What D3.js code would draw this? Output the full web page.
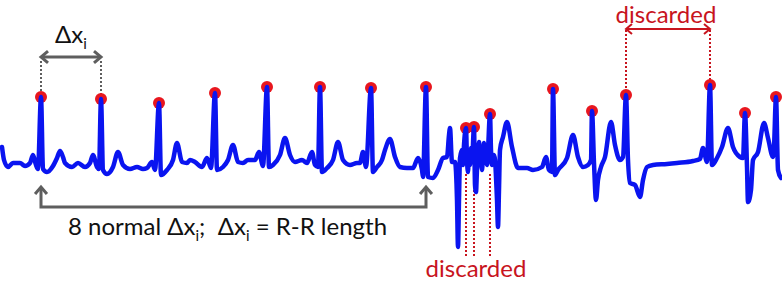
<!DOCTYPE html>
<html>
<head>
<meta charset="utf-8">
<script src="https://cdn.jsdelivr.net/npm/d3@7"></script>
<style>
  body { margin: 0; background: #fff; }
  text { font-family: Lato, "Open Sans", sans-serif; }
</style>
</head>
<body>
<svg id="chart" width="782" height="281"></svg>
<script>
// ECG trace: time (sample units) and amplitude (baseline = 0, up positive)
const ecgT = [2, 4, 8, 13, 20, 25, 30, 33, 36, 38, 41, 43, 47, 53, 57, 60, 63, 65, 72, 78,
  85, 90, 93, 97, 99, 101, 103, 107, 113, 118, 123, 130, 137, 143, 147, 152, 155, 159, 161, 167,
  173, 177, 182, 187, 190, 195, 202, 207, 211, 215, 217, 223, 228, 233, 238, 243, 248, 255, 259, 263,
  267, 269, 273, 280, 285, 290, 295, 302, 307, 312, 315, 318, 320, 322, 327, 333, 338, 343, 350, 357,
  360, 363, 366, 371, 373, 377, 382, 385, 390, 395, 400, 407, 413, 418, 422, 423, 426, 428, 433, 438,
  443, 447, 449, 450, 452, 455, 457, 458, 459, 460, 462, 463, 464, 466, 467, 468, 469, 470, 471, 472,
  474, 475, 476, 477, 478, 479, 480, 481, 482, 483, 484, 485, 486, 487, 488, 490, 491, 492, 494, 495,
  497, 498, 499, 500, 503, 507, 512, 518, 527, 533, 542, 546, 549, 552, 553, 555, 558, 567, 573, 578,
  583, 588, 591, 592, 594, 596, 598, 601, 605, 611, 615, 620, 623, 626, 628, 630, 635, 640, 643, 647,
  653, 667, 677, 693, 700, 703, 707, 710, 712, 717, 722, 728, 733, 740, 743, 745, 747, 748, 751, 753,
  758, 764, 768, 773, 774, 776, 778, 781];
const ecgV = [18, 5, -2, 2, 2, -1, 2, 10, 0, -4, 68, -4, -7, -1, 7, 14, 8, 2, -2, 2,
  -2, 2, 10, -2, -4, 66, -5, -9, -2, 13, 0, -4, -2, -4, -3, 3, -5, 62, -10, -5,
  5, 22, 3, 2, 5, 3, -2, 7, -3, 72, -5, -2, 5, 20, 3, 2, 5, 5, 13, -1,
  78, -2, 0, 10, 27, 10, 3, 5, 2, 13, 0, -2, 78, -7, -3, 5, 23, 5, 0, 2,
  2, 13, -2, 77, -7, -2, 5, 15, 26, 8, -2, -3, -3, 7, -5, -12, 78, -12, -13, -5,
  7, 8, 30, 37, 3, 3, -35, -82, -35, 7, 15, 0, 20, 37, 5, -7, 15, 0, 17, 5,
  38, -20, -27, -5, 5, 23, 0, 15, -5, 10, 22, 5, 13, 0, 15, 51, 15, 0, 10, 5,
  -35, -62, -25, 15, 28, 43, 18, -3, -3, -5, -2, 8, -5, -7, 76, -10, -5, 7, 30, 8,
  -2, 0, 5, 54, 2, -35, -15, -2, 8, 43, 20, 5, 8, 70, 5, -18, -20, -32, -15, -2,
  0, 1, 2, 4, 6, 17, 3, 80, 0, 7, 18, 37, 18, 8, 7, 52, -2, -37, -25, 5,
  13, 42, 27, 8, 18, 68, -5, -13];

// detected R peaks
const peakT = [41, 101, 159, 215, 267, 320, 371, 426, 466, 474, 490, 553, 592, 626, 710, 745, 776];
const peakV = [68, 66, 62, 72, 78, 78, 77, 78, 37, 38, 51, 76, 54, 70, 80, 52, 68];

// which peaks the annotations refer to (indexes into peakT)
const exampleInterval = [0, 1];
const normalRun = [0, 7];
const discardedPeaks = [8, 9, 10];
const discardedInterval = [13, 14];

const width = 782, height = 281;
const blue = '#0a14f0', red = '#e8161e', darkRed = '#c8141e', gray = '#5e5e5e';

const svg = d3.select('#chart');

const x = d3.scaleLinear().domain([0, 782]).range([0, width]);
const y = d3.scaleLinear().domain([-100, 165]).range([265, 0]);

const signal = ecgT.map(function(t, i) { return [t, ecgV[i]]; });
const peaks = peakT.map(function(t, i) { return { t: t, v: peakV[i] }; });

// chevron arrow head, tip at (px,py), pointing to angle (deg)
function chevron(g, px, py, angle, size, color, sw) {
  g.append('path')
    .attr('d', 'M' + (-size) + ',' + (-size * 0.85) + 'L0,0L' + (-size) + ',' + (size * 0.85))
    .attr('transform', 'translate(' + px + ',' + py + ') rotate(' + angle + ')')
    .attr('fill', 'none')
    .attr('stroke', color)
    .attr('stroke-width', sw)
    .attr('stroke-linejoin', 'miter');
}

const annot = svg.append('g');

// red dotted lines under discarded peaks (behind trace)
annot.selectAll('.disc_drop')
  .data(discardedPeaks)
  .enter()
  .append('line')
  .attr('class', 'disc_drop')
  .attr('x1', function(d) { return x(peaks[d].t); })
  .attr('x2', function(d) { return x(peaks[d].t); })
  .attr('y1', 174)
  .attr('y2', 257)
  .attr('stroke', darkRed)
  .attr('stroke-width', 2)
  .attr('stroke-dasharray', '2,2');

// gray dotted guides for example interval
annot.selectAll('.ex_drop')
  .data(exampleInterval)
  .enter()
  .append('line')
  .attr('x1', function(d) { return x(peaks[d].t); })
  .attr('x2', function(d) { return x(peaks[d].t); })
  .attr('y1', 61)
  .attr('y2', function(d) { return y(peaks[d].v) - 5; })
  .attr('stroke', gray)
  .attr('stroke-width', 2)
  .attr('stroke-dasharray', '2,2');

// red dotted guides for discarded interval
annot.selectAll('.disc_top')
  .data(discardedInterval)
  .enter()
  .append('line')
  .attr('x1', function(d) { return x(peaks[d].t); })
  .attr('x2', function(d) { return x(peaks[d].t); })
  .attr('y1', 30)
  .attr('y2', function(d) { return y(peaks[d].v) - 5; })
  .attr('stroke', darkRed)
  .attr('stroke-width', 2)
  .attr('stroke-dasharray', '2,2');

// red peak markers
svg.append('g')
  .selectAll('circle')
  .data(peaks)
  .enter()
  .append('circle')
  .attr('cx', function(d) { return x(d.t); })
  .attr('cy', function(d) { return y(d.v); })
  .attr('r', 6)
  .attr('fill', red);

// ECG trace
const line = d3.line()
  .x(function(d) { return x(d[0]); })
  .y(function(d) { return y(d[1]); })
  .curve(d3.curveMonotoneX);

svg.append('path')
  .datum(signal)
  .attr('d', line)
  .attr('fill', 'none')
  .attr('stroke', blue)
  .attr('stroke-width', 4.5)
  .attr('stroke-linejoin', 'round')
  .attr('stroke-linecap', 'round');

// example interval double arrow
let ax1 = x(peaks[exampleInterval[0]].t), ax2 = x(peaks[exampleInterval[1]].t);
annot.append('line')
  .attr('x1', ax1 + 1).attr('x2', ax2 - 1)
  .attr('y1', 57).attr('y2', 57)
  .attr('stroke', gray).attr('stroke-width', 3);
chevron(annot, ax1, 57, 180, 7, gray, 3);
chevron(annot, ax2, 57, 0, 7, gray, 3);

let dxLabel = svg.append('text')
  .attr('x', (ax1 + ax2) / 2)
  .attr('y', 43)
  .attr('text-anchor', 'middle')
  .attr('font-size', 24)
  .attr('fill', '#111');
dxLabel.append('tspan').text('Δx');
dxLabel.append('tspan').attr('font-size', 15).attr('dy', 6).text('i');

// bracket under the normal run
let bx1 = x(peaks[normalRun[0]].t), bx2 = x(peaks[normalRun[1]].t);
annot.append('path')
  .attr('d', 'M' + bx1 + ',189V207H' + bx2 + 'V189')
  .attr('fill', 'none')
  .attr('stroke', gray)
  .attr('stroke-width', 3);
chevron(annot, bx1, 187, -90, 7, gray, 3);
chevron(annot, bx2, 187, -90, 7, gray, 3);

let runLabel = svg.append('text')
  .attr('x', (bx1 + bx2) / 2 - 6)
  .attr('y', 235)
  .attr('text-anchor', 'middle')
  .attr('font-size', 24)
  .attr('fill', '#111');
runLabel.append('tspan').text('8 normal Δx');
runLabel.append('tspan').attr('font-size', 15).attr('dy', 6).text('i');
runLabel.append('tspan').attr('dy', -6).text(';\u00a0 Δx');
runLabel.append('tspan').attr('font-size', 15).attr('dy', 6).text('i');
runLabel.append('tspan').attr('dy', -6).text(' = R-R length');

// discarded labels
let dxa = x(peaks[discardedInterval[0]].t), dxb = x(peaks[discardedInterval[1]].t);
annot.append('line')
  .attr('x1', dxa + 1).attr('x2', dxb - 1)
  .attr('y1', 29).attr('y2', 29)
  .attr('stroke', darkRed).attr('stroke-width', 2);
chevron(annot, dxa, 29, 180, 6, darkRed, 2);
chevron(annot, dxb, 29, 0, 6, darkRed, 2);

svg.append('text')
  .attr('x', (dxa + dxb) / 2 - 2)
  .attr('y', 23)
  .attr('text-anchor', 'middle')
  .attr('font-size', 24)
  .attr('fill', darkRed)
  .text('discarded');

let dpMid = (x(peaks[discardedPeaks[0]].t) + x(peaks[discardedPeaks[2]].t)) / 2;
svg.append('text')
  .attr('x', dpMid - 2)
  .attr('y', 277)
  .attr('text-anchor', 'middle')
  .attr('font-size', 24)
  .attr('fill', darkRed)
  .text('discarded');
</script>
</body>
</html>
